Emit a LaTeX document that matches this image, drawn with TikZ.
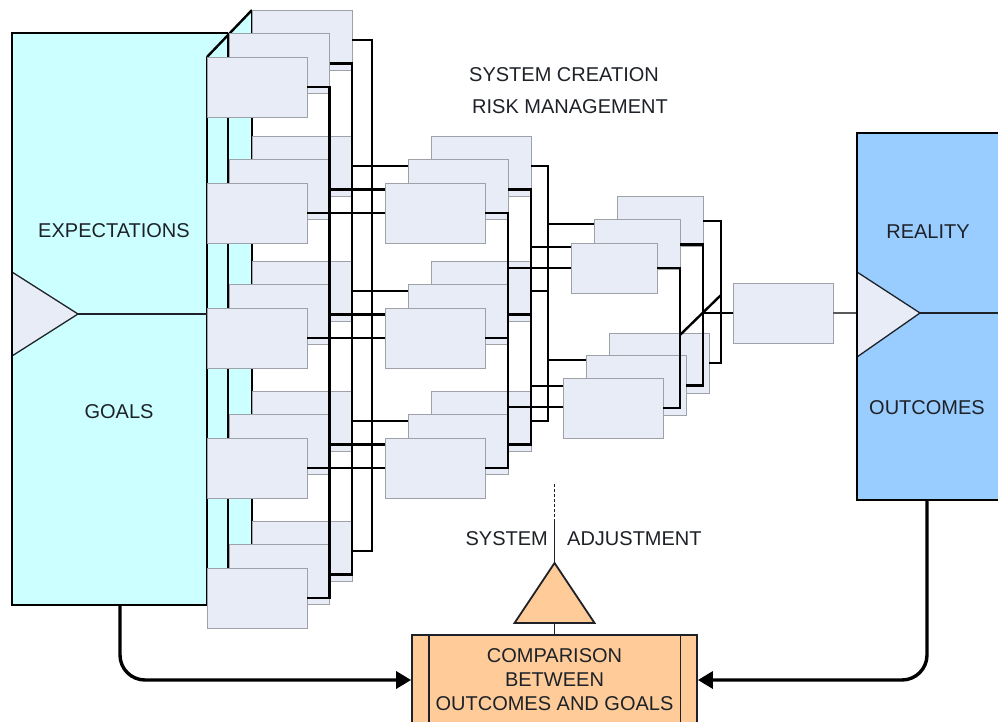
\documentclass[tikz,border=0pt]{standalone}
\usepackage{fontspec}
\setmainfont{Liberation Sans}
\usetikzlibrary{arrows.meta}
\definecolor{goalcyan}{RGB}{204,255,255}
\definecolor{realblue}{RGB}{153,204,255}
\definecolor{cellfill}{RGB}{232,236,247}
\definecolor{cellline}{RGB}{158,162,168}
\definecolor{peach}{RGB}{255,204,153}
\definecolor{ink}{RGB}{30,34,40}
\begin{document}
\begin{tikzpicture}[x=1pt,y=-1pt,
  cell/.style={draw=cellline,line width=0.9pt,fill=cellfill,inner sep=0pt,outer sep=0pt,
    anchor=north west,minimum width=100pt,minimum height=60pt},
  smallcell/.style={cell,minimum width=86pt,minimum height=50pt},
  wire/.style={draw=black,line width=2.4pt},
  hair/.style={draw=ink,line width=1.2pt},
  flow/.style={draw=black,line width=3.4pt,rounded corners=25pt,-{Triangle[length=15pt,width=17pt]}},
  txt/.style={font=\fontsize{20}{24}\selectfont,text=ink,inner sep=0pt}]
\useasboundingbox (0,0) rectangle (998,722);
\fill[white] (0,0) rectangle (998,722);

% ---------- expectations / goals block ----------
\fill[goalcyan] (12,33) -- (228,33) -- (252,10) -- (252,580) -- (207,605) -- (12,605) -- cycle;
\filldraw[fill=cellfill,draw=ink,line width=1.3pt] (12,272) -- (78,314) -- (12,356);
\draw[line width=2.4pt] (207,605) -- (12,605) -- (12,33) -- (228,33);
\draw[line width=1.3pt] (207,57) -- (207,605);
\draw[line width=2.4pt] (207,57) -- (252,10);
\draw[line width=2.4pt] (228,33) -- (228,600);
\draw[line width=2.4pt] (252,10) -- (252,580);
\coordinate (gtip) at (78,314);
\coordinate (gedge) at (207,314);
\draw[hair] (gtip) -- (gedge);
\node[txt] (expect) at (114,231) {EXPECTATIONS};
\node[txt] (goalword) at (119,412) {GOALS};

% ---------- first stage: five stacks of three ----------
\foreach \rw/\ry in {1/57,2/183,3/308,4/438,5/568}{
  \foreach \ly in {2,1,0}{
    \node[cell] (s1-\rw-\ly) at ({207+22.5*\ly},{\ry-23.5*\ly}) {};
  }
}
\coordinate (b1-0) at (329.5,0);
\coordinate (b1-1) at (352,0);
\coordinate (b1-2) at (372,0);

% ---------- second stage: three stacks ----------
\foreach \gp/\ry in {1/183,2/308,3/438}{
  \foreach \ly in {2,1,0}{
    \node[cell] (s2-\gp-\ly) at ({385+23*\ly},{\ry-23.5*\ly}) {};
  }
}

% first stage wiring
\foreach \ly in {0,1,2}{
  \draw[wire] (s1-1-\ly.east) -- (s1-1-\ly.east -| b1-\ly) -- (s1-5-\ly.east -| b1-\ly) -- (s1-5-\ly.east);
}
\foreach \rw/\gp in {2/1,3/2,4/3}{
  \draw[wire] (s1-\rw-0.east) -- (s1-\rw-0.east -| s2-\gp-0.west);
  \draw[wire] (s1-\rw-1.east) -- (s1-\rw-1.east -| s2-\gp-0.west);
  \draw[wire] (s1-\rw-2.east) -- (s1-\rw-2.east -| s2-\gp-1.west);
}

% second stage wiring
\coordinate (b2-0) at (508,0);
\coordinate (b2-1) at (531,0);
\coordinate (b2-2) at (548,0);
\foreach \ly in {0,1,2}{
  \draw[wire] (s2-1-\ly.east) -- (s2-1-\ly.east -| b2-\ly) -- (s2-3-\ly.east -| b2-\ly) -- (s2-3-\ly.east);
  \draw[wire] (s2-2-\ly.east) -- (s2-2-\ly.east -| b2-\ly);
}

% ---------- third stage: two stacks ----------
\foreach \ly in {2,1,0}{
  \node[smallcell] (s3-1-\ly) at ({571+23*\ly},{243-23.5*\ly}) {};
}
\foreach \ly in {2,1,0}{
  \node[cell] (s3-2-\ly) at ({563+23*\ly},{378-22.5*\ly}) {};
}
\coordinate (j1c) at (548,224);
\coordinate (j1b) at (531,247);
\coordinate (j1a) at (508,268);
\coordinate (j2c) at (548,360);
\coordinate (j2b) at (531,386);
\coordinate (j2a) at (508,407);
\draw[wire] (j1c) -- (j1c -| s3-1-1.west);
\draw[wire] (j1b) -- (j1b -| s3-1-0.west);
\draw[wire] (j1a) -- (j1a -| s3-1-0.west);
\draw[wire] (j2c) -- (j2c -| s3-2-1.west);
\draw[wire] (j2b) -- (j2b -| s3-2-0.west);
\draw[wire] (j2a) -- (j2a -| s3-2-0.west);

\coordinate (b3-0) at (680,0);
\coordinate (b3-1) at (703,0);
\coordinate (b3-2) at (721,0);
\foreach \ly in {0,1,2}{
  \draw[wire] (s3-1-\ly.east) -- (s3-1-\ly.east -| b3-\ly) -- (s3-2-\ly.east -| b3-\ly) -- (s3-2-\ly.east);
}
\coordinate (m1) at (680,335);
\coordinate (m2) at (721,295);
\draw[wire] (m1) -- (m2);

% ---------- final stage ----------
\node[cell] (final) at (733,283) {};
\coordinate (mj) at (703,313);
\draw[wire] (mj) -- (final.west);

% ---------- reality / outcomes block ----------
\node[fill=realblue,inner sep=0pt,outer sep=0pt,anchor=north west,minimum width=170pt,minimum height=367pt] (reality) at (857,133) {};
\draw[line width=1.3pt,draw=black!65] (final.east) -- (final.east -| reality.west);
\filldraw[fill=cellfill,draw=ink,line width=1.3pt] (857,272) -- (920,313) -- (857,357);
\coordinate (rtip) at (920,313);
\coordinate (redge) at (998,313);
\draw[hair] (rtip) -- (redge);
\draw[line width=2.4pt] (reality.north east) -- (reality.north west) -- (reality.south west) -- (reality.south east);
\node[txt] (realword) at (928,232) {REALITY};
\node[txt] (outword) at (927,408) {OUTCOMES};

% ---------- captions ----------
\node[txt,anchor=west] (create) at (469,75) {SYSTEM CREATION};
\node[txt,anchor=west] (risk) at (472,107) {RISK MANAGEMENT};

% ---------- comparison ----------
\node[draw=ink,line width=1.8pt,fill=peach,minimum width=285pt,minimum height=90pt,inner sep=0pt,
  align=center,txt] (compare) at (554.5,680) {COMPARISON\\BETWEEN\\OUTCOMES AND GOALS};
\draw[draw=ink,line width=1.8pt] ([xshift=17.5pt]compare.north west) -- ([xshift=17.5pt]compare.south west);
\draw[draw=ink,line width=1.8pt] ([xshift=-17.5pt]compare.north east) -- ([xshift=-17.5pt]compare.south east);

\coordinate (adjtip) at (554.5,563);
\coordinate (adjbase) at (554.5,623);
\coordinate (adjsolid) at (554.5,522);
\coordinate (adjend) at (554.5,484);
\filldraw[fill=peach,draw=ink,line width=1.8pt] (adjtip) -- (594.5,623) -- (514.5,623) -- cycle;
\draw[draw=ink,line width=1.8pt] (adjbase) -- (compare.north);
\draw[draw=ink,line width=1.8pt] (adjtip) -- (adjsolid);
\draw[draw=ink,line width=1.8pt,dash pattern=on 3pt off 2pt] (adjsolid) -- (adjend);
\node[txt,anchor=east] (sysword) at (548,539) {SYSTEM};
\node[txt,anchor=west] (adjword) at (567,539) {ADJUSTMENT};

% ---------- feedback arrows ----------
\coordinate (goalfoot) at (120,605);
\coordinate (realfoot) at (927,500);
\draw[flow] (goalfoot) |- (compare.west);
\draw[flow] (realfoot) |- (compare.east);
\end{tikzpicture}
\end{document}
